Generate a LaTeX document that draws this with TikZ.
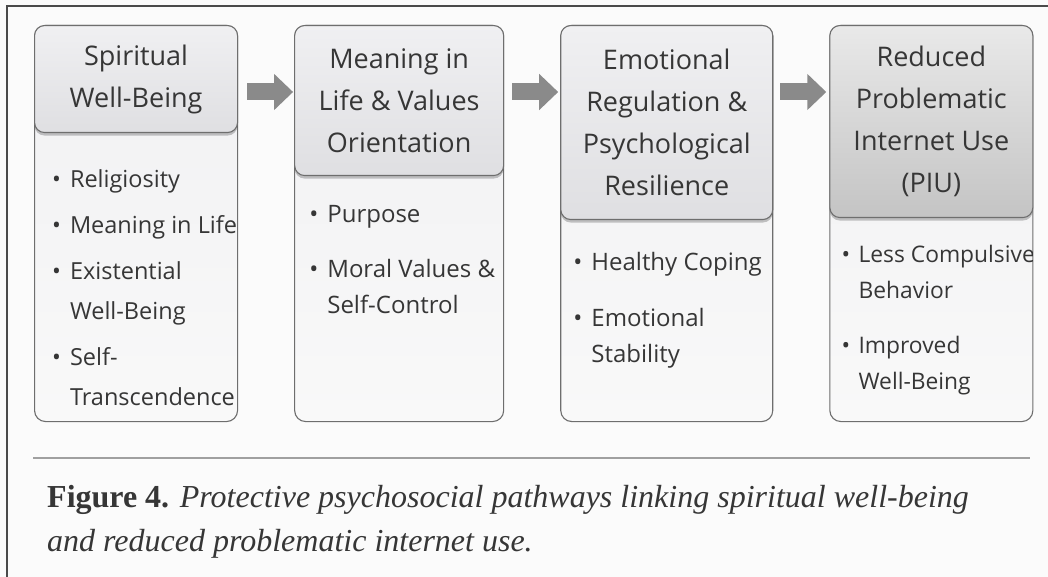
\documentclass[tikz,border=0pt]{standalone}
\usepackage{fontspec}
\setmainfont{Open Sans}
\newfontfamily\capfont{Liberation Serif}
\usetikzlibrary{positioning,shadows,arrows.meta}
\definecolor{paper}{HTML}{FBFBFB}
\definecolor{edge}{HTML}{6E6E6E}
\definecolor{headtop}{HTML}{F0F0F2}
\definecolor{headbot}{HTML}{DFDFE2}
\definecolor{darktop}{HTML}{E9E9E9}
\definecolor{darkbot}{HTML}{C4C4C4}
\definecolor{bodytop}{HTML}{F0F0F2}
\definecolor{bodybot}{HTML}{F9F9F9}
\definecolor{ink}{HTML}{363636}
\definecolor{arrowgray}{HTML}{8A8A8A}
\definecolor{rulegray}{HTML}{A0A0A0}
\definecolor{framegray}{HTML}{4A4A4A}
\tikzstyle{box} = [rectangle, draw=edge, line width=1.1pt, rounded corners=11pt,
    top color=bodytop, bottom color=bodybot, minimum height=396pt, anchor=north west]
\tikzstyle{head} = [rectangle, draw=edge, line width=1.1pt, rounded corners=10pt,
    top color=headtop, bottom color=headbot, text=ink, align=center, anchor=north west,
    font=\fontsize{27}{42}\selectfont,
    drop shadow={shadow xshift=0pt, shadow yshift=-3pt, opacity=0.22, fill=black}]
\tikzstyle{items} = [anchor=north west, inner sep=0pt, text=ink]
\tikzstyle{flow} = [draw=arrowgray, line width=17pt, -{Triangle[length=19pt 0 0, width=35pt 0 0]}]
\tikzstyle{caption} = [anchor=base west, inner sep=0pt, text=ink, font=\capfont\fontsize{32}{38}\selectfont]

\begin{document}
\begin{tikzpicture}[x=1pt,y=-1pt]
    \fill[paper] (0,0) rectangle (1048,577);
    \useasboundingbox (0,0) rectangle (1048,577);
    \draw[framegray, line width=1.5pt] (7,577) -- (7,6) -- (1048,6);

    % outer boxes
    \node[box, minimum width=203pt] (spiritbox) at (34,25) {};
    \node[box, minimum width=209pt, right=56pt of spiritbox.north east, anchor=north west] (meaningbox) {};
    \node[box, minimum width=212pt, right=56pt of meaningbox.north east, anchor=north west] (emotionbox) {};
    \node[box, minimum width=203pt, right=56pt of emotionbox.north east, anchor=north west] (piubox) {};

    % headers
    \node[head, minimum width=203pt, minimum height=107pt] (spirit) at (spiritbox.north west) {Spiritual\\Well-Being};
    \node[head, minimum width=209pt, minimum height=150pt] (meaning) at (meaningbox.north west) {Meaning in\\Life \& Values\\Orientation};
    \node[head, minimum width=212pt, minimum height=194pt] (emotion) at (emotionbox.north west) {Emotional\\Regulation \&\\Psychological\\Resilience};
    \node[head, minimum width=203pt, minimum height=192pt, top color=darktop, bottom color=darkbot] (piu) at (piubox.north west) {Reduced\\Problematic\\Internet Use\\(PIU)};

    % bullet lists (cut off at the box edge)
    \begin{scope}
        \clip[rounded corners=11pt] (spiritbox.north west) rectangle ([xshift=-1pt]spiritbox.south east);
        \node[items, font=\fontsize{23.5}{40}\selectfont] (spiritlist) at ([xshift=18pt,yshift=-26pt]spirit.south west)
            {\begin{tabular}{@{}l@{\hspace{9pt}}l@{}}
            • & Religiosity\\[6pt]
            • & Meaning in Life\\[6pt]
            • & Existential\\ & Well-Being\\[6pt]
            • & Self-\\ & Transcendence
            \end{tabular}};
    \end{scope}
    \node[items, font=\fontsize{24}{36}\selectfont] (meaninglist) at ([xshift=15pt,yshift=-21pt]meaning.south west)
        {\begin{tabular}{@{}l@{\hspace{9pt}}l@{}}
        • & Purpose\\[19pt]
        • & Moral Values \&\\ & Self-Control
        \end{tabular}};
    \node[items, font=\fontsize{24}{36}\selectfont] (emotionlist) at ([xshift=13pt,yshift=-25pt]emotion.south west)
        {\begin{tabular}{@{}l@{\hspace{9pt}}l@{}}
        • & Healthy Coping\\[20pt]
        • & Emotional\\ & Stability
        \end{tabular}};
    \begin{scope}
        \clip[rounded corners=11pt] (piubox.north west) rectangle ([xshift=-1pt]piubox.south east);
        \node[items, font=\fontsize{22.8}{36}\selectfont] (piulist) at ([xshift=12pt,yshift=-19pt]piu.south west)
            {\begin{tabular}{@{}l@{\hspace{8.5pt}}l@{}}
            • & Less Compulsive\\ & Behavior\\[19pt]
            • & Improved\\ & Well-Being
            \end{tabular}};
    \end{scope}

    % arrows between stages
    \draw[flow] ([xshift=9pt,yshift=-67pt]spiritbox.north east) -- ([xshift=-1pt,yshift=-67pt]meaningbox.north west);
    \draw[flow] ([xshift=8pt,yshift=-67pt]meaningbox.north east) -- ([xshift=-2pt,yshift=-67pt]emotionbox.north west);
    \draw[flow] ([xshift=7pt,yshift=-67pt]emotionbox.north east) -- ([xshift=-3pt,yshift=-67pt]piubox.north west);

    % caption
    \coordinate (rule west) at (33,458);
    \coordinate (rule east) at (1030,458);
    \draw[rulegray, line width=1.4pt] (rule west) -- (rule east);
    \node[caption] (caption) at (47,507) {\textbf{Figure 4.} \textit{Protective psychosocial pathways linking spiritual well-being}};
    \node[caption] (captionb) at ([yshift=-44pt]caption.base west) {\textit{and reduced problematic internet use.}};
\end{tikzpicture}
\end{document}
